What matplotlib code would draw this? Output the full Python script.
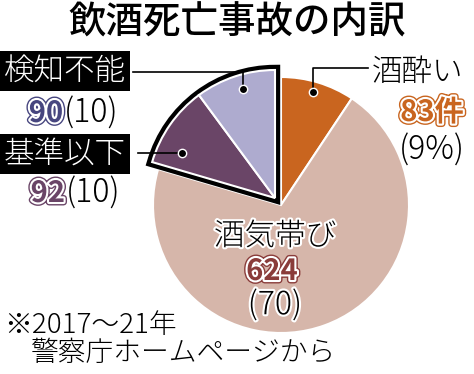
"""
Pie chart: breakdown of drink-driving fatal accidents (2017-21)
"""

import matplotlib
matplotlib.use('Agg')
import matplotlib.pyplot as plt
import matplotlib.patheffects as pe
from matplotlib.patches import Wedge

plt.rcParams['font.family'] = ['Noto Sans CJK JP', 'DejaVu Sans']

# data
categories = ['酒酔い', '酒気帯び', '基準以下', '検知不能']
counts = [83, 624, 92, 90]
shares = [9, 70, 10, 10]
slice_colors = ['#c9651f', '#d6b6aa', '#6a4567', '#aeabcf']
number_colors = ['#c9651f', '#8a3c3a', '#6a4567', '#47467f']

W, H = 474, 374


def Y(y):
    # layout helper: pixel row (from top) -> data y
    return H - y


fig = plt.figure(figsize=(W / 100, H / 100), dpi=100)
ax = fig.add_axes([0, 0, 1, 1])

cx, cy, R = 281, Y(205), 128
wedges, _ = ax.pie(counts, colors=slice_colors, startangle=90, counterclock=False,
                   radius=R, center=(cx, cy),
                   wedgeprops=dict(edgecolor='white', linewidth=1.5))
ax.set_xlim(0, W)
ax.set_ylim(0, H)
ax.set_aspect('equal')
ax.axis('off')

# pull the two low-level groups out together and frame them
dx, dy = -6, 7
group = wedges[2:]
for w in wedges[:2]:
    w.set_zorder(1)
for w in group:
    w.set_center((cx + dx, cy + dy))
    w.set_zorder(3)
t1 = min(w.theta1 for w in group)
t2 = max(w.theta2 for w in group)
frame = Wedge((cx + dx, cy + dy), R, t1, t2, facecolor='black', edgecolor='black',
              linewidth=7.5, joinstyle='miter', zorder=2)
ax.add_patch(frame)

LW = 'light'

# title
ax.text(237, Y(22), '飲酒死亡事故の内訳', ha='center', va='center', fontsize=27,
        fontweight='medium')

box = dict(boxstyle='square,pad=0.12', facecolor='black', edgecolor='none')
stroke_w = [pe.withStroke(linewidth=3, foreground='white')]


def number(x, y, text, color, ha='right'):
    ax.text(x, y, text, ha=ha, va='center', fontsize=21, fontweight='bold',
            color=color, zorder=6,
            path_effects=[pe.Stroke(linewidth=5, foreground=color),
                          pe.Stroke(linewidth=3, foreground='white'), pe.Normal()])


# 検知不能
ax.text(4, Y(71), categories[3], ha='left', va='center', fontsize=22, color='white',
        fontweight=LW, bbox=box, zorder=6)
ax.plot([133, 243, 243], [Y(72), Y(72), Y(89)], color='black', lw=1.2, zorder=5)
ax.plot(243, Y(89), 'o', ms=6, color='black', mec='white', mew=1, zorder=6)
number(63, Y(113), str(counts[3]), number_colors[3])
ax.text(64, Y(113), f'({shares[3]})', ha='left', va='center', fontsize=23,
        fontweight=LW, zorder=6)

# 基準以下
ax.text(4, Y(154), categories[2], ha='left', va='center', fontsize=22, color='white',
        fontweight=LW, bbox=box, zorder=6)
ax.plot([138, 182], [Y(153), Y(153)], color='black', lw=1.2, zorder=5)
ax.plot(182, Y(153), 'o', ms=6, color='black', mec='white', mew=1, zorder=6)
number(65, Y(193), str(counts[2]), number_colors[2])
ax.text(66, Y(193), f'({shares[2]})', ha='left', va='center', fontsize=23,
        fontweight=LW, zorder=6)

# 酒酔い
ax.text(372, Y(72), categories[0], ha='left', va='center', fontsize=22,
        fontweight=LW, zorder=6)
ax.plot([368, 313, 313], [Y(68), Y(68), Y(92)], color='black', lw=1.2, zorder=5)
ax.plot(313, Y(92), 'o', ms=6, color='black', mec='white', mew=1, zorder=6)
number(432, Y(112), f'{counts[0]}件', number_colors[0], ha='center')
ax.text(432, Y(150), f'({shares[0]}%)', ha='center', va='center', fontsize=23,
        fontweight=LW, zorder=6)

# 酒気帯び
ax.text(275, Y(236), categories[1], ha='center', va='center', fontsize=22,
        fontweight=LW, zorder=6, path_effects=stroke_w)
number(272, Y(271), str(counts[1]), number_colors[1], ha='center')
ax.text(275, Y(305), f'({shares[1]})', ha='center', va='center', fontsize=23,
        fontweight=LW, zorder=6, path_effects=stroke_w)

# footnote
ax.text(4, Y(325), '※2017～21年', ha='left', va='center', fontsize=20, fontweight=LW)
ax.text(31, Y(353), '警察庁ホームページから', ha='left', va='center', fontsize=20,
        fontweight=LW)

fig.savefig('out.png', dpi=100)
